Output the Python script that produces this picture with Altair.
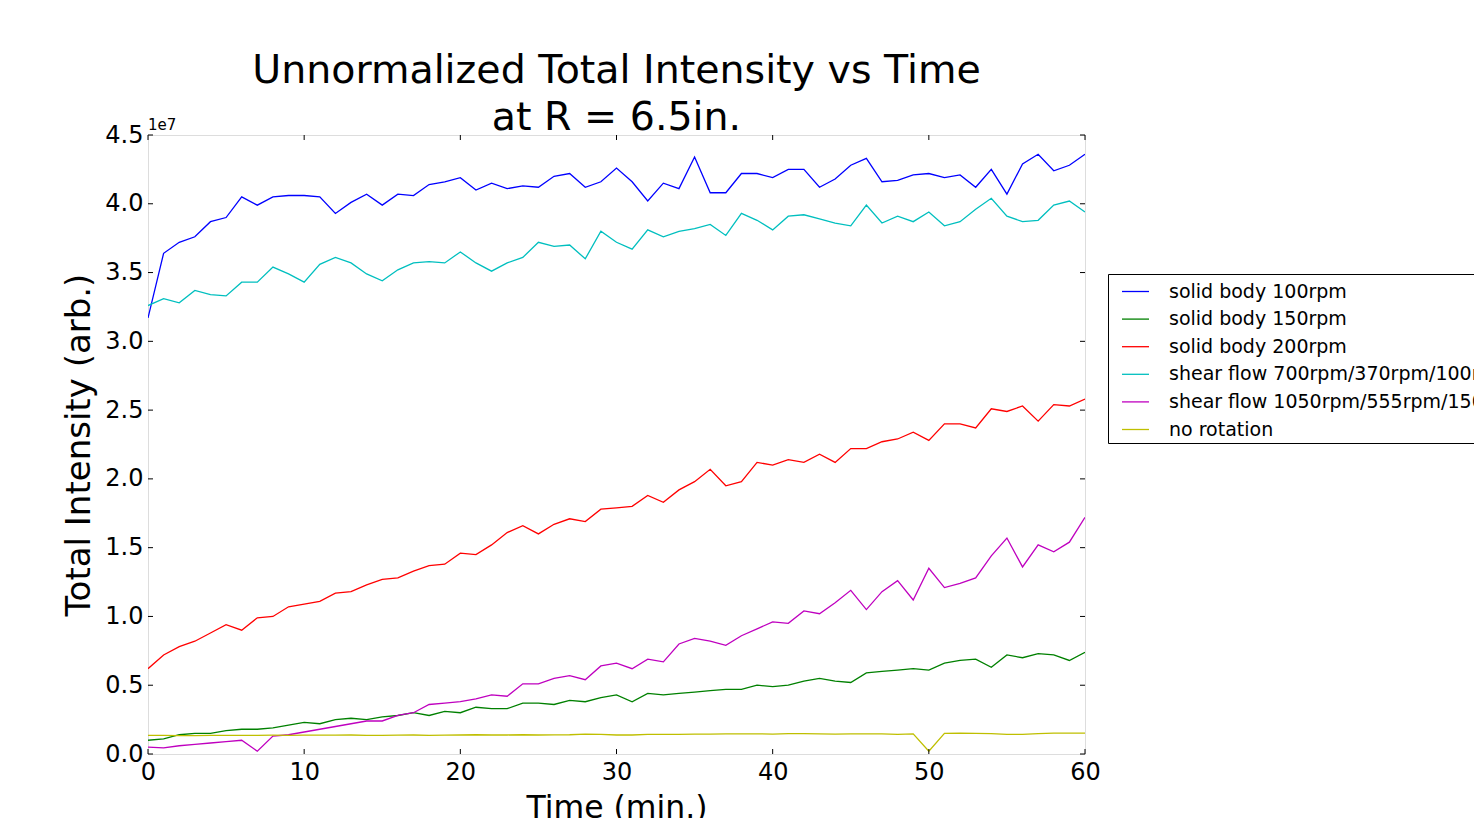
import altair as alt
import pandas as pd

minutes = list(range(61))

solid_100 = [3.17, 3.64, 3.72, 3.76, 3.87, 3.90, 4.05, 3.99, 4.05, 4.06,
             4.06, 4.05, 3.93, 4.01, 4.07, 3.99, 4.07, 4.06, 4.14, 4.16,
             4.19, 4.10, 4.15, 4.11, 4.13, 4.12, 4.20, 4.22, 4.12, 4.16,
             4.26, 4.16, 4.02, 4.15, 4.11, 4.34, 4.08, 4.08, 4.22, 4.22,
             4.19, 4.25, 4.25, 4.12, 4.18, 4.28, 4.33, 4.16, 4.17, 4.21,
             4.22, 4.19, 4.21, 4.12, 4.25, 4.07, 4.29, 4.36, 4.24, 4.28,
             4.36]
solid_150 = [0.10, 0.11, 0.14, 0.15, 0.15, 0.17, 0.18, 0.18, 0.19, 0.21,
             0.23, 0.22, 0.25, 0.26, 0.25, 0.27, 0.28, 0.30, 0.28, 0.31,
             0.30, 0.34, 0.33, 0.33, 0.37, 0.37, 0.36, 0.39, 0.38, 0.41,
             0.43, 0.38, 0.44, 0.43, 0.44, 0.45, 0.46, 0.47, 0.47, 0.50,
             0.49, 0.50, 0.53, 0.55, 0.53, 0.52, 0.59, 0.60, 0.61, 0.62,
             0.61, 0.66, 0.68, 0.69, 0.63, 0.72, 0.70, 0.73, 0.72, 0.68,
             0.74]
solid_200 = [0.62, 0.72, 0.78, 0.82, 0.88, 0.94, 0.90, 0.99, 1.00, 1.07,
             1.09, 1.11, 1.17, 1.18, 1.23, 1.27, 1.28, 1.33, 1.37, 1.38,
             1.46, 1.45, 1.52, 1.61, 1.66, 1.60, 1.67, 1.71, 1.69, 1.78,
             1.79, 1.80, 1.88, 1.83, 1.92, 1.98, 2.07, 1.95, 1.98, 2.12,
             2.10, 2.14, 2.12, 2.18, 2.12, 2.22, 2.22, 2.27, 2.29, 2.34,
             2.28, 2.40, 2.40, 2.37, 2.51, 2.49, 2.53, 2.42, 2.54, 2.53,
             2.58]
shear_700 = [3.26, 3.31, 3.28, 3.37, 3.34, 3.33, 3.43, 3.43, 3.54, 3.49,
             3.43, 3.56, 3.61, 3.57, 3.49, 3.44, 3.52, 3.57, 3.58, 3.57,
             3.65, 3.57, 3.51, 3.57, 3.61, 3.72, 3.69, 3.70, 3.60, 3.80,
             3.72, 3.67, 3.81, 3.76, 3.80, 3.82, 3.85, 3.77, 3.93, 3.88,
             3.81, 3.91, 3.92, 3.89, 3.86, 3.84, 3.99, 3.86, 3.91, 3.87,
             3.94, 3.84, 3.87, 3.96, 4.04, 3.91, 3.87, 3.88, 3.99, 4.02,
             3.94]
shear_1050 = [0.05, 0.045, 0.06, 0.07, 0.08, 0.09, 0.10, 0.02, 0.13, 0.14,
              0.16, 0.18, 0.20, 0.22, 0.24, 0.24, 0.28, 0.30, 0.36, 0.37,
              0.38, 0.40, 0.43, 0.42, 0.51, 0.51, 0.55, 0.57, 0.54, 0.64,
              0.66, 0.62, 0.69, 0.67, 0.80, 0.84, 0.82, 0.79, 0.86, 0.91,
              0.96, 0.95, 1.04, 1.02, 1.10, 1.19, 1.05, 1.18, 1.26, 1.12,
              1.35, 1.21, 1.24, 1.28, 1.44, 1.57, 1.36, 1.52, 1.47, 1.54,
              1.72]
no_rotation = [0.135, 0.135, 0.133, 0.134, 0.135, 0.135, 0.135, 0.136, 0.137, 0.136,
               0.137, 0.137, 0.137, 0.138, 0.135, 0.136, 0.137, 0.138, 0.136, 0.137,
               0.138, 0.140, 0.138, 0.138, 0.140, 0.138, 0.139, 0.140, 0.145, 0.143,
               0.138, 0.138, 0.143, 0.142, 0.142, 0.145, 0.145, 0.146, 0.146, 0.147,
               0.145, 0.148, 0.148, 0.147, 0.145, 0.146, 0.147, 0.146, 0.143, 0.146,
               0.020, 0.150, 0.152, 0.150, 0.148, 0.142, 0.142, 0.148, 0.152, 0.152,
               0.152]

series_names = ["solid body 100rpm", "solid body 150rpm", "solid body 200rpm",
                "shear flow 700rpm/370rpm/100rpm", "shear flow 1050rpm/555rpm/150rpm",
                "no rotation"]
series_colors = ["#0000ff", "#008000", "#ff0000", "#00bfbf", "#bf00bf", "#bfbf00"]
series_values = [solid_100, solid_150, solid_200, shear_700, shear_1050, no_rotation]

x_ticks = [0, 10, 20, 30, 40, 50, 60]
y_ticks = [0.0, 0.5, 1.0, 1.5, 2.0, 2.5, 3.0, 3.5, 4.0, 4.5]

rows = []
for name, vals in zip(series_names, series_values):
    for t, v in zip(minutes, vals):
        rows.append({"time": t, "intensity": v, "series": name})
df = pd.DataFrame(rows)

W, H = 937, 619
FONT = "DejaVu Sans"

xscale = alt.Scale(domain=[0, 60], nice=False, zero=False)
yscale = alt.Scale(domain=[0, 4.5], nice=False, zero=True)

lines = alt.Chart(df).mark_line(strokeWidth=1.3, clip=True).encode(
    x=alt.X("time:Q", scale=xscale,
            axis=alt.Axis(title="Time (min.)", values=x_ticks, format="d",
                          tickSize=0, labelPadding=6, titlePadding=8,
                          labelFontSize=24, titleFontSize=31.5, titleFontWeight="normal",
                          labelColor="black", titleColor="black",
                          domain=False, grid=False, labelFlush=False)),
    y=alt.Y("intensity:Q", scale=yscale,
            axis=alt.Axis(title="Total Intensity (arb.)", values=y_ticks, format=".1f",
                          tickSize=0, labelPadding=5, titlePadding=8,
                          labelFontSize=24, titleFontSize=34, titleFontWeight="normal",
                          labelColor="black", titleColor="black",
                          domain=False, grid=False, labelFlush=False)),
    color=alt.Color("series:N", sort=series_names,
                    scale=alt.Scale(domain=series_names, range=series_colors),
                    legend=alt.Legend(title=None, orient="none", legendX=960, legendY=139,
                                      symbolType="stroke", symbolSize=729,
                                      symbolStrokeWidth=1.3, symbolOffset=10,
                                      labelOffset=19, labelFontSize=19, labelFont=FONT,
                                      labelColor="black", labelLimit=600, rowPadding=2.6,
                                      padding=3, strokeColor="black", fillColor="white",
                                      cornerRadius=0)),
    detail="series:N",
)

ytick_df = pd.DataFrame({"v": y_ticks})
xtick_df = pd.DataFrame({"v": x_ticks})

yt_left = alt.Chart(ytick_df).mark_rule(color="black", strokeWidth=1).encode(
    y=alt.Y("v:Q", scale=yscale), x=alt.value(0), x2=alt.value(5))
yt_right = alt.Chart(ytick_df).mark_rule(color="black", strokeWidth=1).encode(
    y=alt.Y("v:Q", scale=yscale), x=alt.value(W - 5), x2=alt.value(W))
xt_bottom = alt.Chart(xtick_df).mark_rule(color="black", strokeWidth=1).encode(
    x=alt.X("v:Q", scale=xscale), y=alt.value(H - 5), y2=alt.value(H))
xt_top = alt.Chart(xtick_df).mark_rule(color="black", strokeWidth=1).encode(
    x=alt.X("v:Q", scale=xscale), y=alt.value(0), y2=alt.value(5))

offset_text = alt.Chart(pd.DataFrame({"t": ["1e7"]})).mark_text(
    align="left", baseline="alphabetic", fontSize=15, font=FONT, color="black"
).encode(x=alt.value(0), y=alt.value(-5), text="t:N")

chart = alt.layer(lines, yt_left, yt_right, xt_bottom, xt_top, offset_text).properties(
    width=W, height=H,
    title=alt.Title(["Unnormalized Total Intensity vs Time", "at R = 6.5in."],
                    fontSize=39.5, font=FONT, fontWeight="normal", color="black",
                    anchor="middle", lineHeight=47, offset=-20),
    autosize=alt.AutoSizeParams(type="none"),
    padding={"left": 148, "top": 135, "right": 389, "bottom": 64},
).configure_view(stroke="black", strokeWidth=1.2).configure(
    font=FONT, background="white"
).configure_axis(labelFont=FONT, titleFont=FONT)

chart.save("out.html", embed_options={"renderer": "svg", "actions": False})
